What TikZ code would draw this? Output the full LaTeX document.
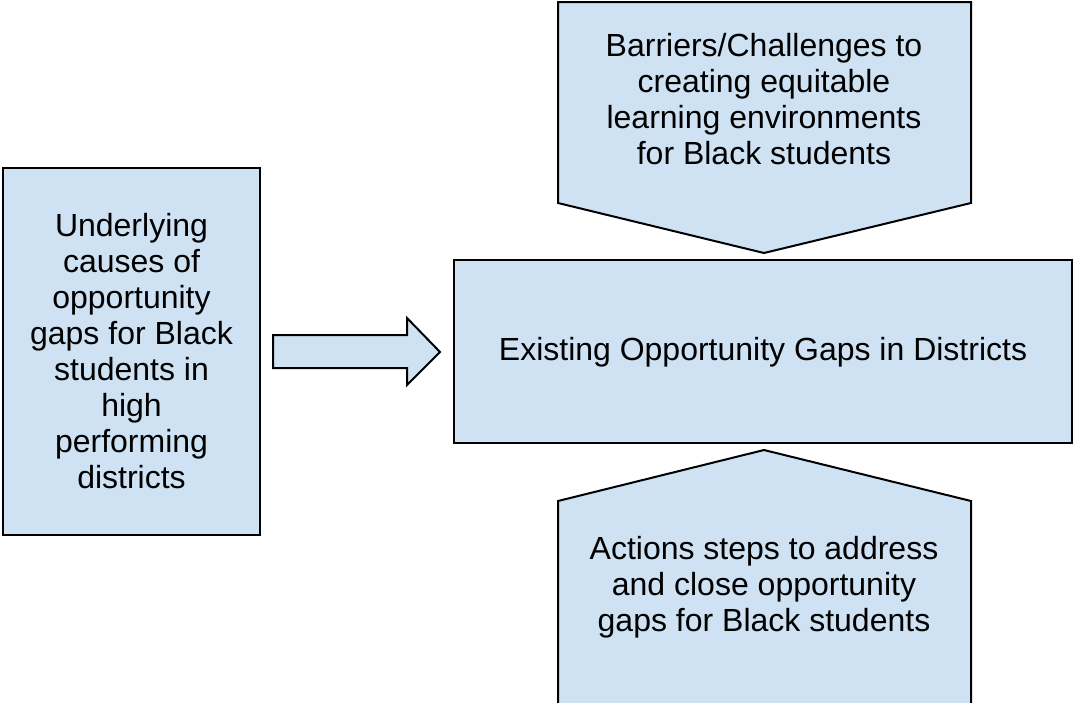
\documentclass[tikz,border=0pt]{standalone}
\usepackage{fontspec}
\setmainfont{Liberation Sans}
\definecolor{boxfill}{HTML}{CFE2F3}
\begin{document}
\begin{tikzpicture}[x=1pt,y=-1pt,
  shapestyle/.style={draw=black,fill=boxfill,line width=2pt,line join=miter},
  txt/.style={align=center,font=\fontsize{32}{36}\selectfont,inner sep=0pt}]
\useasboundingbox (0,0) rectangle (1074,702);
% left box
\draw[shapestyle] (3,168) rectangle (260,535);
\node[txt] (causes) at (131.5,351) {Underlying\\causes of\\opportunity\\gaps for Black\\students in\\high\\performing\\districts};
% block arrow
\draw[shapestyle] (273,335) -- (407,335) -- (407,318) -- (440,352) -- (407,385) -- (407,368) -- (273,368) -- cycle;
% center box
\draw[shapestyle] (454,260) rectangle (1072,443);
\node[txt] (gaps) at (763,352) {Existing Opportunity Gaps in Districts};
% top pentagon
\draw[shapestyle] (558,2) -- (971,2) -- (971,203) -- (764,253) -- (558,203) -- cycle;
\node[txt] (barriers) at (764,99) {Barriers/Challenges to\\creating equitable\\learning environments\\for Black students};
% bottom pentagon
\draw[shapestyle] (558,710) -- (558,501) -- (764,450) -- (971,501) -- (971,710);
\node[txt] (actions) at (764,587) {Actions steps to address\\and close opportunity\\gaps for Black students};
\end{tikzpicture}
\end{document}
